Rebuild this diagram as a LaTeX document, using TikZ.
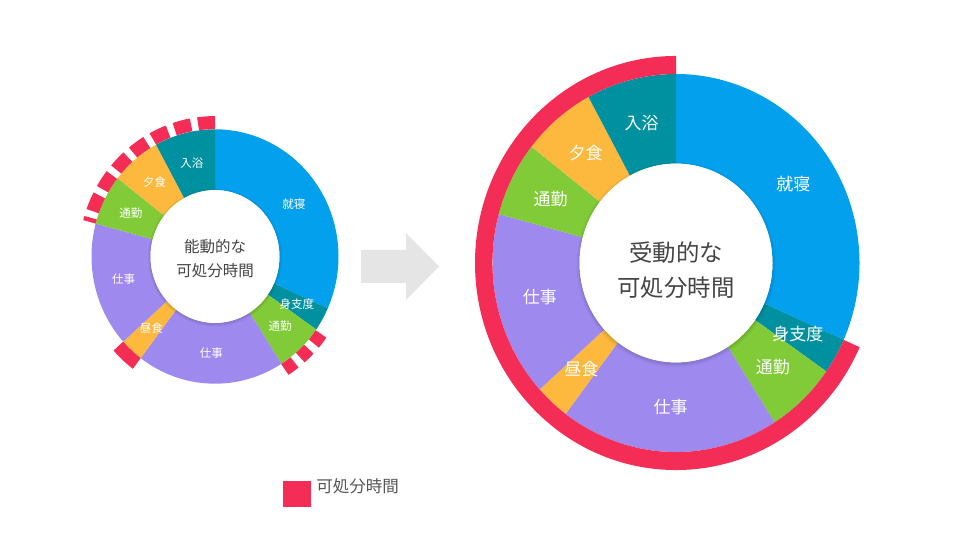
\documentclass[tikz,border=0pt]{standalone}
\usepackage{fontspec}
\setmainfont{Noto Sans CJK JP}
\usepackage{tikz}
\definecolor{sleepblue}{HTML}{03A0EE}
\definecolor{bathteal}{HTML}{0091A1}
\definecolor{mealorange}{HTML}{FDB83E}
\definecolor{commutegreen}{HTML}{80CB37}
\definecolor{workpurple}{HTML}{9E8AEE}
\definecolor{freered}{HTML}{F42D56}
\definecolor{arrowgray}{HTML}{E5E5E5}
\definecolor{textgray}{HTML}{444444}
\definecolor{keygray}{HTML}{555555}
\def\donutpart[#1](#2:#3:#4:#5){\fill[#1] (#2:#5) arc (#2:#3:#5) -- (#3:#4) arc (#3:#2:#4) -- cycle;}
\tikzset{
	biglabel/.style={text=white, inner sep=0pt, font=\fontsize{17}{17}\selectfont},
	smalllabel/.style={text=white, inner sep=0pt, font=\fontsize{11.5}{11.5}\selectfont},
	freedash/.style={draw=freered, line width=13pt, dash pattern=on 17pt off 7pt},
}

\begin{document}
\begin{tikzpicture}[x=1pt, y=1pt]
			%%%%% START %%%%%
			\useasboundingbox (0,0) rectangle (960,540);
			\fill[white] (0,0) rectangle (960,540);
			
			% small donut (before)
			\begin{scope}[shift={(215,283.5)}, yscale=1.03]
			\donutpart[sleepblue](336:450:64.5:123.5)
			\donutpart[bathteal](325:336:64.5:123.5)
			\donutpart[commutegreen](302.5:325:64.5:123.5)
			\donutpart[workpurple](233:302.5:64.5:123.5)
			\donutpart[mealorange](222:233:64.5:123.5)
			\donutpart[workpurple](165:222:64.5:123.5)
			\donutpart[commutegreen](142:165:64.5:123.5)
			\donutpart[mealorange](118.5:142:64.5:123.5)
			\donutpart[bathteal](90:118.5:64.5:123.5)
			
			\fill[black, opacity=0.05] (0,-1) circle (67);
			\fill[black, opacity=0.07] (0,-1) circle (65.5);
			\fill[white] (0,0) circle (64.5);
			
			\draw[freedash] (90:130) arc (90:165:130);
			\donutpart[freered](222:233:123.5:136.5)
			\draw[freedash, dash pattern=on 12pt off 7.5pt] (302.5:130) arc (302.5:325:130);
			
			\node[smalllabel] (small-sleep) at (33:94) {就寝};
			\node[smalllabel] (small-prep) at (330.5:94) {身支度};
			\node[smalllabel] (small-commute2) at (313.75:94) {通勤};
			\node[smalllabel] (small-work2) at (267.75:94) {仕事};
			\node[smalllabel] (small-lunch) at (227.5:94) {昼食};
			\node[smalllabel] (small-work1) at (193.5:94) {仕事};
			\node[smalllabel] (small-commute1) at (153.5:94) {通勤};
			\node[smalllabel] (small-dinner) at (130.25:94) {夕食};
			\node[smalllabel] (small-bath) at (104.25:94) {入浴};
			
			\node[text=textgray, align=center, font=\fontsize{15.5}{24}\selectfont] (small-title) at (0,-2) {能動的な\\可処分時間};
			\end{scope}
			
			% arrow
			\fill[arrowgray] (361,290) -- (406,290) -- (406,307) -- (439,273.5) -- (406,240) -- (406,257) -- (361,257) -- cycle;
			
			% big donut (after)
			\begin{scope}[shift={(676,277)}, yscale=1.03]
			\donutpart[sleepblue](336:450:96.5:183.5)
			\donutpart[bathteal](325:336:96.5:183.5)
			\donutpart[commutegreen](302.5:325:96.5:183.5)
			\donutpart[workpurple](233:302.5:96.5:183.5)
			\donutpart[mealorange](222:233:96.5:183.5)
			\donutpart[workpurple](165:222:96.5:183.5)
			\donutpart[commutegreen](142:165:96.5:183.5)
			\donutpart[mealorange](118.5:142:96.5:183.5)
			\donutpart[bathteal](90:118.5:96.5:183.5)
			
			\donutpart[freered](90:336:183.5:201)
			
			\fill[black, opacity=0.05] (0,-1.5) circle (99.5);
			\fill[black, opacity=0.07] (0,-1.5) circle (97.5);
			\fill[white] (0,0) circle (96.5);
			
			\node[biglabel] (big-sleep) at (33:140) {就寝};
			\node[biglabel] (big-prep) at (330.5:140) {身支度};
			\node[biglabel] (big-commute2) at (313.75:140) {通勤};
			\node[biglabel] (big-work2) at (267.75:140) {仕事};
			\node[biglabel] (big-lunch) at (227.5:140) {昼食};
			\node[biglabel] (big-work1) at (193.5:140) {仕事};
			\node[biglabel] (big-commute1) at (153.5:140) {通勤};
			\node[biglabel] (big-dinner) at (130.25:140) {夕食};
			\node[biglabel] (big-bath) at (104.25:140) {入浴};
			
			\node[text=textgray, align=center, font=\fontsize{23.4}{35}\selectfont] (big-title) at (0,-6.5) {受動的な\\可処分時間};
			\end{scope}
			
			% key
			\node[fill=freered, minimum width=28pt, minimum height=26pt, inner sep=0pt] (key-box) at (297,46) {};
			\node[anchor=west, inner sep=0pt, text=keygray, font=\fontsize{16.5}{16.5}\selectfont] (key-text) at ([xshift=5pt, yshift=7.5pt]key-box.east) {可処分時間};
			%%%%% END %%%%%
\end{tikzpicture}
\end{document}
